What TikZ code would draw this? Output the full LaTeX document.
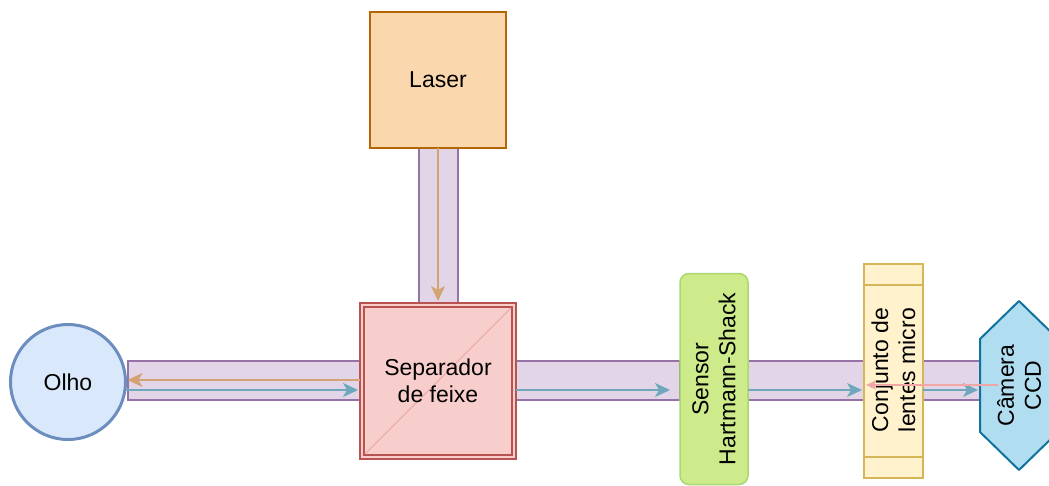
\documentclass[tikz,border=0pt]{standalone}
\usepackage{fontspec}
\setmainfont{Liberation Sans}
\usetikzlibrary{arrows.meta,calc}
\definecolor{laserfill}{HTML}{FAD7AC}
\definecolor{laserdraw}{HTML}{B46504}
\definecolor{tubefill}{HTML}{E1D5E7}
\definecolor{tubedraw}{HTML}{9673A6}
\definecolor{sepfill}{HTML}{F8CECC}
\definecolor{sepdraw}{HTML}{B85450}
\definecolor{sepdiag}{HTML}{E9A3A1}
\definecolor{eyefill}{HTML}{DAE8FC}
\definecolor{eyedraw}{HTML}{6C8EBF}
\definecolor{sensfill}{HTML}{CDEB8B}
\definecolor{sensdraw}{HTML}{A8D86E}
\definecolor{conjfill}{HTML}{FFF2CC}
\definecolor{conjdraw}{HTML}{D6B656}
\definecolor{camfill}{HTML}{B1DDF0}
\definecolor{camdraw}{HTML}{10739E}
\definecolor{beamorange}{HTML}{D4A373}
\definecolor{beamblue}{HTML}{6FA8BD}
\definecolor{beampink}{HTML}{F2A7A7}
\begin{document}
\begin{tikzpicture}[x=1pt,y=-1pt,
  font=\fontsize{23}{27}\selectfont,
  box/.style={inner sep=0pt, outer sep=0pt, align=center},
  tube/.style={box, fill=tubefill, draw=tubedraw, line width=1.5pt},
  oarr/.style={draw=beamorange, line width=1.3pt, -{Stealth[length=15pt,width=14pt,inset=4pt]}},
  barr/.style={draw=beamblue, line width=1.3pt, -{Stealth[length=15pt,width=14pt,inset=4pt]}},
  parr/.style={draw=beampink, line width=1.3pt, -{Stealth[length=10pt,width=9pt,inset=2pt]}},
  txt/.style={inner sep=0pt, align=center, rotate=90}
]
\useasboundingbox (0,0) rectangle (1049,485);
\clip (0,0) rectangle (1049,485);
% tubes
\node[tube, minimum width=39pt, minimum height=155pt] (tubeV) at (438.5,225.5) {};
\node[tube, minimum width=232pt, minimum height=39pt] (tubeL) at (244,380.5) {};
\node[tube, minimum width=164pt, minimum height=39pt] (tubeR1) at (598,380.5) {};
\node[tube, minimum width=116pt, minimum height=39pt] (tubeR2) at (806,380.5) {};
\node[tube, minimum width=57pt, minimum height=39pt] (tubeR3) at (951.5,380.5) {};
% laser
\node[box, fill=laserfill, draw=laserdraw, line width=2pt, minimum width=136pt, minimum height=136pt] (laser) at (438,80) {Laser};
% eye
\node[box, circle, fill=eyefill, draw=eyedraw, line width=3pt, minimum size=115pt] (olho) at (68,382) {Olho};
% separator
\node[box, fill=sepfill, draw=sepdraw, line width=1.5pt, minimum width=156pt, minimum height=156pt] (sep) at (438,381) {};
\draw[sepdraw, line width=1.5pt] ($(sep.north west)+(4,4)$) rectangle ($(sep.south east)+(-4,-4)$);
\draw[sepdiag, line width=1pt] ($(sep.south west)+(5,-5)$) -- ($(sep.north east)+(-5,5)$);
\node[box] (septxt) at (sep) {Separador\\de feixe};
% sensor
\node[box, fill=sensfill, draw=sensdraw, line width=1.5pt, rounded corners=9pt, minimum width=68pt, minimum height=211pt] (sensor) at (714,379) {};
\node[txt] (senstxt) at (sensor) {Sensor\\Hartmann-Shack};
% conjunto
\node[box, fill=conjfill, draw=conjdraw, line width=1.5pt, minimum width=59pt, minimum height=214pt] (conj) at (893.5,371) {};
\draw[conjdraw, line width=1.5pt] ($(conj.north west)+(0,21)$) -- ($(conj.north east)+(0,21)$);
\draw[conjdraw, line width=1.5pt] ($(conj.south west)+(0,-21)$) -- ($(conj.south east)+(0,-21)$);
\node[txt] (conjtxt) at (893.5,370) {Conjunto de\\lentes micro};
% camera
\node[box, minimum width=78pt, minimum height=169pt] (cam) at (1019,385.5) {};
\draw[fill=camfill, draw=camdraw, line width=2pt, line join=round]
  (cam.north) -- ($(cam.north east)+(0,38)$) -- ($(cam.south east)+(0,-38)$) -- (cam.south)
  -- ($(cam.south west)+(0,-38)$) -- ($(cam.north west)+(0,38)$) -- cycle;
\node[txt] (camtxt) at (cam) {Câmera\\CCD};
% beams
\draw[oarr, shorten >=2pt] (laser.south) -- (sep.north);
\draw[oarr, shorten >=2pt] (sep.west |- 0,380) -- (olho.east |- 0,380);
\draw[barr, shorten >=2pt] (olho.east |- 0,390) -- (sep.west |- 0,390);
\draw[barr, shorten >=10pt] (sep.east |- 0,390) -- (sensor.west |- 0,390);
\draw[barr, shorten >=2pt] (sensor.east |- 0,390) -- (conj.west |- 0,390);
\draw[barr, shorten >=2pt] (conj.east |- 0,390) -- (cam.west |- 0,390);
\coordinate (pstart) at (998,385);
\draw[parr, shorten >=2pt] (pstart) -- (conj.west |- 0,385);
\end{tikzpicture}
\end{document}
